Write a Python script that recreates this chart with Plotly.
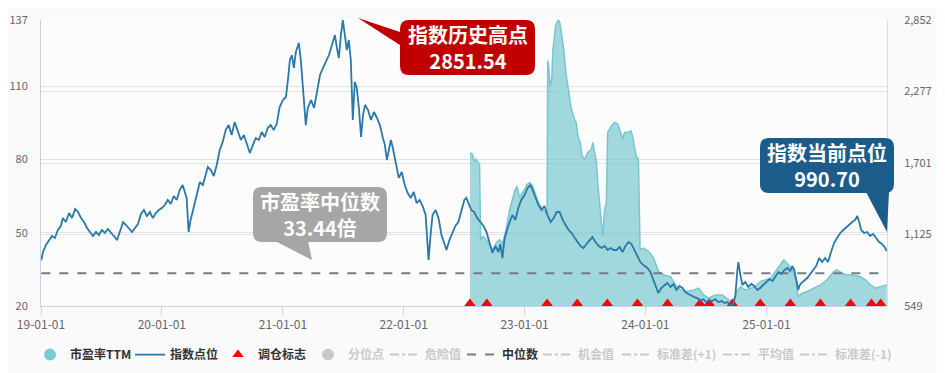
import plotly.graph_objects as go

# ---------------- data ----------------
idx_dates = [
"2019-01-02","2019-01-07","2019-01-16","2019-01-25","2019-02-03","2019-02-12","2019-02-21","2019-03-02","2019-03-08","2019-03-17",
"2019-03-27","2019-04-05","2019-04-14","2019-04-23","2019-05-02","2019-05-11","2019-05-20","2019-05-29","2019-06-07","2019-06-16",
"2019-06-25","2019-07-04","2019-07-13","2019-07-22","2019-07-31","2019-08-09","2019-08-19","2019-08-28","2019-09-06","2019-09-15",
"2019-09-24","2019-10-03","2019-10-12","2019-10-21","2019-10-30","2019-11-08","2019-11-17","2019-11-26","2019-12-05","2019-12-14",
"2019-12-23",
"2020-01-01","2020-01-10","2020-01-19","2020-01-28","2020-02-06","2020-02-15","2020-02-24","2020-03-04","2020-03-10","2020-03-16",
"2020-03-22","2020-03-28","2020-04-06","2020-04-15","2020-04-25","2020-05-04","2020-05-13","2020-05-19","2020-05-28","2020-06-06",
"2020-06-15","2020-06-24","2020-07-03","2020-07-12","2020-07-21","2020-07-30","2020-08-08","2020-08-18","2020-08-27","2020-09-05",
"2020-09-14","2020-09-23","2020-10-02","2020-10-11","2020-10-20","2020-10-29","2020-11-07","2020-11-16","2020-11-25","2020-12-04",
"2020-12-13","2020-12-22",
"2021-01-01","2021-01-10","2021-01-16","2021-01-22","2021-01-28","2021-02-03","2021-02-09","2021-02-18","2021-02-24","2021-03-02",
"2021-03-08","2021-03-11","2021-03-17","2021-03-27","2021-04-05","2021-04-14","2021-04-23","2021-05-02","2021-05-11","2021-05-20",
"2021-05-29","2021-06-07","2021-06-13","2021-06-19","2021-06-25","2021-07-01","2021-07-07","2021-07-13","2021-07-19","2021-07-25",
"2021-07-31","2021-08-06","2021-08-12","2021-08-19","2021-08-25","2021-08-31","2021-09-06","2021-09-15","2021-09-24","2021-10-03",
"2021-10-12","2021-10-21","2021-10-30","2021-11-05","2021-11-11","2021-11-17","2021-11-23","2021-11-29","2021-12-08","2021-12-17",
"2021-12-26",
"2022-01-04","2022-01-13","2022-01-22","2022-01-31","2022-02-09","2022-02-18","2022-02-27","2022-03-08","2022-03-14","2022-03-17",
"2022-03-23","2022-03-29","2022-04-07","2022-04-16","2022-04-25","2022-05-04","2022-05-10","2022-05-19","2022-05-28","2022-06-06",
"2022-06-15","2022-06-24","2022-07-03","2022-07-09","2022-07-15","2022-07-24","2022-08-02","2022-08-11","2022-08-21","2022-08-30",
"2022-09-08","2022-09-17","2022-09-26","2022-10-05","2022-10-14","2022-10-20","2022-10-26","2022-11-01","2022-11-07","2022-11-16",
"2022-11-25","2022-12-04","2022-12-13","2022-12-22",
"2023-01-01","2023-01-10","2023-01-19","2023-01-25","2023-02-03","2023-02-12","2023-02-21","2023-03-02","2023-03-11","2023-03-21",
"2023-03-30","2023-04-08","2023-04-17","2023-04-26","2023-05-05","2023-05-14","2023-05-23","2023-06-01","2023-06-10","2023-06-19",
"2023-06-28","2023-07-07","2023-07-16","2023-07-25","2023-08-03","2023-08-13","2023-08-22","2023-08-31","2023-09-09","2023-09-18",
"2023-09-27","2023-10-06","2023-10-15","2023-10-24","2023-11-02","2023-11-11","2023-11-20","2023-11-29","2023-12-08","2023-12-17",
"2023-12-26",
"2024-01-07","2024-01-16","2024-01-25","2024-02-03","2024-02-09","2024-02-18","2024-02-27","2024-03-07","2024-03-17","2024-03-26",
"2024-04-04","2024-04-13","2024-04-22","2024-05-01","2024-05-10","2024-05-19","2024-05-28","2024-06-06","2024-06-15","2024-06-24",
"2024-07-03","2024-07-12","2024-07-21","2024-07-30","2024-08-08","2024-08-18","2024-08-27","2024-09-05","2024-09-14","2024-09-23",
"2024-09-29","2024-10-05","2024-10-08","2024-10-14","2024-10-20","2024-10-29","2024-11-07","2024-11-16","2024-11-25","2024-12-04",
"2024-12-13","2024-12-22",
"2025-01-01","2025-01-10","2025-01-19","2025-01-28","2025-02-06","2025-02-15","2025-02-24","2025-03-05","2025-03-14","2025-03-20",
"2025-03-26","2025-04-07","2025-04-10","2025-04-16","2025-04-25","2025-05-04","2025-05-13","2025-05-22","2025-05-31","2025-06-09",
"2025-06-18","2025-06-27","2025-07-06","2025-07-15","2025-07-24","2025-08-02","2025-08-12","2025-08-21","2025-08-30","2025-09-08",
"2025-09-17","2025-09-26","2025-10-02","2025-10-08","2025-10-14","2025-10-23","2025-11-01","2025-11-10","2025-11-19","2025-11-28",
"2025-12-07","2025-12-16","2025-12-24","2025-12-30",
]
idx_values = [
919,984,1040,1080,1113,1097,1161,1193,1257,1225,
1298,1257,1330,1306,1257,1225,1177,1145,1113,1145,
1121,1161,1137,1169,1145,1113,1080,1161,1225,1201,
1177,1145,1177,1209,1290,1322,1274,1306,1257,1298,
1322,
1338,1362,1403,1370,1435,1403,1483,1523,1467,1419,
1145,1242,1338,1443,1547,1523,1604,1668,1644,1596,
1684,1805,1870,1966,2006,1926,2030,1950,1886,1926,
1861,1781,1845,1902,1886,1950,1910,1982,2006,1966,
2014,2151,
2208,2232,2369,2530,2570,2466,2594,2667,2530,2329,
2127,2006,2143,2208,2143,2272,2409,2466,2514,2570,
2651,2731,2627,2546,2731,2851.54,2731,2610,2691,2530,
2047,2353,2304,2127,1910,2087,2168,2127,2047,2111,
2063,2006,1902,1845,1725,1805,1886,1821,1708,1580,
1628,
1523,1459,1419,1467,1378,1403,1354,1282,1080,919,
1121,1282,1322,1257,1121,1040,1000,1080,1145,1193,
1225,1306,1403,1419,1378,1322,1306,1257,1225,1193,
1145,1064,976,1032,984,1048,935,1080,1145,1217,
1282,1242,1338,1403,
1443,1499,1523,1483,1419,1362,1322,1354,1282,1225,
1257,1306,1306,1242,1201,1161,1137,1097,1064,1032,
1016,1048,1080,1104,1064,1032,1016,1032,1000,1016,
1000,1000,1024,984,1032,1064,1048,1000,943,903,
879,
855,823,758,702,654,694,718,734,702,726,
678,710,694,662,646,630,621,613,589,605,
581,597,589,605,581,589,573,581,557,565,
637,839,903,799,718,742,702,726,710,678,
694,718,
742,766,750,791,823,807,839,855,831,871,
839,678,710,734,758,774,807,839,871,935,
903,935,903,984,1056,1097,1137,1161,1185,1209,
1225,1242,1274,1225,1161,1137,1145,1113,1129,1097,
1064,1048,1024,990.70,
]

pe_dates = [
"2022-07-20","2022-07-27","2022-08-03","2022-08-08","2022-08-13","2022-08-18","2022-08-21","2022-08-28","2022-09-07","2022-09-17",
"2022-09-27","2022-10-07","2022-10-17","2022-10-27","2022-11-06","2022-11-17","2022-11-25","2022-12-02","2022-12-09","2022-12-17",
"2022-12-25","2023-01-01","2023-01-08","2023-01-16","2023-01-26","2023-02-03","2023-02-10","2023-02-18","2023-02-25","2023-03-05",
"2023-03-10","2023-03-12","2023-03-15","2023-03-19","2023-03-24","2023-03-28","2023-04-01","2023-04-05","2023-04-12","2023-04-17",
"2023-04-22","2023-04-29","2023-05-07","2023-05-15","2023-05-22","2023-06-01","2023-06-06","2023-06-11","2023-06-18","2023-06-24",
"2023-07-01","2023-07-11","2023-07-22","2023-07-26","2023-07-31","2023-08-06","2023-08-10","2023-08-16","2023-08-21","2023-08-25",
"2023-08-31","2023-09-05","2023-09-09","2023-09-20","2023-09-30","2023-10-10","2023-10-20","2023-10-24","2023-10-30","2023-11-09",
"2023-11-19","2023-11-23","2023-12-04","2023-12-11","2023-12-16","2023-12-27","2024-01-11","2024-01-26","2024-02-10","2024-02-25",
"2024-03-17","2024-04-01","2024-04-16","2024-05-06","2024-05-26","2024-06-10","2024-06-25","2024-07-10","2024-07-30","2024-08-20",
"2024-09-09","2024-09-22","2024-10-04","2024-10-14","2024-10-29","2024-11-13","2024-11-28","2024-12-13","2024-12-28","2025-01-13",
"2025-01-28","2025-02-12","2025-02-22","2025-03-04","2025-03-19","2025-03-30","2025-04-06","2025-04-19","2025-05-04","2025-05-24",
"2025-06-13","2025-07-03","2025-07-23","2025-08-02","2025-08-17","2025-09-01","2025-09-21","2025-10-12","2025-10-27","2025-11-11",
"2025-11-26","2025-12-11","2025-12-30",
]
pe_values = [
82.8,82.1,79.3,80.0,78.9,78.0,47.1,48.5,47.1,45.1,
43.0,45.8,47.1,45.8,51.2,59.5,63.6,67.0,69.0,64.3,
66.3,67.7,69.7,70.4,69.0,65.6,62.9,60.8,59.5,58.1,
57.4,120.4,117.7,110.1,112.9,125.2,130.7,134.8,137.0,136.2,
132.1,125.2,114.2,107.4,100.6,96.4,95.1,89.6,86.9,81.4,
80.0,82.8,84.1,86.9,82.8,79.3,70.4,60.8,54.0,48.5,
59.5,62.2,91.0,93.7,95.1,94.4,90.3,88.2,91.0,91.0,
91.6,89.6,81.4,80.0,43.0,43.7,42.3,39.6,34.1,32.7,
32.0,28.6,26.6,25.9,26.6,27.3,24.5,23.2,24.5,24.5,
22.5,21.8,25.9,27.9,26.6,27.3,27.9,30.0,30.7,31.4,
34.1,36.9,38.9,37.5,35.1,30.7,23.8,25.2,25.9,27.3,
28.6,30.7,34.1,34.8,33.4,32.7,32.7,32.0,30.7,28.6,
27.3,27.9,28.6,
]

rebalance_dates = [
"2022-07-20","2022-09-09","2023-03-10","2023-06-09","2023-09-08","2023-12-08","2024-03-08","2024-06-14",
"2024-07-12","2024-09-20","2024-12-13","2025-03-14","2025-06-13","2025-09-12","2025-11-14","2025-12-12",
]

pe_median = 33.44
index_high = 2851.54
index_now = 990.70

left_ticks = [20, 50, 80, 110, 137]
right_ticks = [549, 1124.75, 1700.5, 2276.25, 2852]
right_ticktext = ["549", "1,125", "1,701", "2,277", "2,852"]

legend_names = ["市盈率TTM", "指数点位", "调仓标志", "分位点", "危险值",
                "中位数", "机会值", "标准差(+1)", "平均值", "标准差(-1)"]

# ---------------- style ----------------
FONT = "Noto Sans CJK SC, Noto Sans, sans-serif"
PE_FILL = "rgba(112,198,207,0.66)"
PE_LINE = "#79c6cf"
IDX_COLOR = "#2a79a8"
GRID = "#e3e3e3"
AXIS = "#c9d1ea"
OFF = "#c9c9c9"
MARK_Y = 21.0   # triangles sit on the bottom axis

# the page body has an 8px margin, so the figure is made smaller and
# all page-pixel positions below are shifted by it
BODY = 8
W, H = 945 - BODY, 373 - BODY
PL, PR, PT, PB = 41, 887, 20, 306  # plot area, page pixels
LEGEND_TEXT_X = [70, 170, 258, 348, 425, 502, 578, 657, 758, 835]  # legend text starts (page px)

def lg(i):
    return "legend" if i == 0 else f"legend{i + 1}"

def nm(i, on):
    t = legend_names[i]
    return f"<b>{t}</b>" if on else f'<span style="color:{OFF}"><b>{t}</b></span>'

fig = go.Figure()

# PE area
fig.add_trace(go.Scatter(x=pe_dates, y=pe_values, mode="lines", fill="tozeroy",
                         fillcolor=PE_FILL, line=dict(color=PE_LINE, width=1.5),
                         showlegend=False, yaxis="y", legendgroup="pe"))
# legend proxy for PE (circle)
fig.add_trace(go.Scatter(x=[None], y=[None], mode="markers", name=nm(0, True), legend=lg(0),
                         marker=dict(symbol="circle", size=12, color="#7ccbd3"), legendgroup="pe"))
# index line
fig.add_trace(go.Scatter(x=idx_dates, y=idx_values, mode="lines", name=nm(1, True), legend=lg(1),
                         line=dict(color=IDX_COLOR, width=1.8), yaxis="y2"))
# rebalance markers
fig.add_trace(go.Scatter(x=rebalance_dates, y=[MARK_Y] * len(rebalance_dates), mode="markers",
                         name=nm(2, True), legend=lg(2), cliponaxis=False,
                         marker=dict(symbol="triangle-up", size=10, color="#ff0000")))
# disabled legend items
fig.add_trace(go.Scatter(x=[None], y=[None], mode="markers", name=nm(3, False), legend=lg(3),
                         marker=dict(symbol="circle", size=12, color=OFF)))
fig.add_trace(go.Scatter(x=[None], y=[None], mode="lines", name=nm(4, False), legend=lg(4),
                         line=dict(color=OFF, width=2, dash="dashdot")))
# median line
fig.add_trace(go.Scatter(x=[idx_dates[0], idx_dates[-1]], y=[pe_median, pe_median], mode="lines",
                         name=nm(5, True), legend=lg(5),
                         line=dict(color="#737b84", width=2, dash="dash")))
for i in range(6, 10):
    fig.add_trace(go.Scatter(x=[None], y=[None], mode="lines", name=nm(i, False), legend=lg(i),
                             line=dict(color=OFF, width=2, dash="dashdot")))

# ---------------- callouts ----------------
def P(x, y):
    return f"{x - PL:.1f},{-(y - PT):.1f}"

def rrect(x0, y0, x1, y1, r):
    return (f"M{P(x0 + r, y0)} L{P(x1 - r, y0)} Q{P(x1, y0)} {P(x1, y0 + r)} "
            f"L{P(x1, y1 - r)} Q{P(x1, y1)} {P(x1 - r, y1)} L{P(x0 + r, y1)} "
            f"Q{P(x0, y1)} {P(x0, y1 - r)} L{P(x0, y0 + r)} Q{P(x0, y0)} {P(x0 + r, y0)} Z")

def tri(a, b, c):
    return f"M{P(*a)} L{P(*b)} L{P(*c)} Z"

callouts = [
    ("#c00000", (400, 20, 535, 75), ((358, 18), (403, 33), (403, 47)), f"<b>指数历史高点<br>{index_high:.2f}</b>"),
    ("#1b5c8a", (760, 138, 894, 193), ((866, 192), (889, 192), (887, 232)), f"<b>指数当前点位<br>{index_now:.2f}</b>"),
    ("#a6a6a6", (253, 187, 387, 242), ((275, 241), (308, 241), (312, 260)), f"<b>市盈率中位数<br>{pe_median:.2f}倍</b>"),
]
shapes = []
annotations = []
for col, box, tail, txt in callouts:
    for path in (rrect(*box, 9), tri(*tail)):
        shapes.append(dict(type="path", path=path, xref="paper", yref="paper",
                           xsizemode="pixel", ysizemode="pixel", xanchor=0, yanchor=1,
                           fillcolor=col, line=dict(width=0), layer="above"))
    cx = ((box[0] + box[2]) / 2 - PL) / (PR - PL)
    cy = (PB - (box[1] + box[3]) / 2) / (PB - PT)
    annotations.append(dict(x=cx, y=cy, xref="paper", yref="paper", text=txt, showarrow=False,
                            font=dict(size=20, color="white", family=FONT),
                            xanchor="center", yanchor="middle"))

legends = {}
for i in range(10):
    legends[lg(i)] = dict(orientation="h", x=(LEGEND_TEXT_X[i] - 40 - PL) / (PR - PL), xanchor="left",
                          y=-0.17, yanchor="middle", font=dict(size=12, color="#333", family=FONT),
                          itemwidth=30, bgcolor="rgba(0,0,0,0)", borderwidth=0, itemclick=False)

fig.update_layout(
    width=W, height=H,
    margin=dict(l=PL - BODY, r=W - (PR - BODY), t=PT - BODY, b=H - (PB - BODY), autoexpand=False),
    paper_bgcolor="#fafafa", plot_bgcolor="#fcfcfc",
    font=dict(family=FONT, size=12, color="#666"),
    showlegend=True,
    xaxis=dict(type="date", range=["2019-01-01", "2025-12-31"], tickformat="%y-%m-%d",
               dtick="M12", tick0="2019-01-01", showgrid=False, showline=True, linecolor=AXIS,
               ticks="outside", ticklen=8, tickcolor=AXIS, zeroline=False, automargin=False,
               tickfont=dict(size=12, color="#666")),
    yaxis=dict(range=[20, 137], tickvals=left_ticks, showgrid=True, gridcolor=GRID,
               showline=True, linecolor=AXIS, ticks="", ticklabelstandoff=10, zeroline=False,
               automargin=False, tickfont=dict(size=11, color="#666")),
    yaxis2=dict(overlaying="y", side="right", range=[549, 2852], tickvals=right_ticks,
                ticktext=right_ticktext, showgrid=True, gridcolor=GRID, showline=True,
                linecolor="#dcdcdc", ticks="", ticklabelstandoff=14, zeroline=False,
                automargin=False, tickfont=dict(size=11, color="#666")),
    shapes=shapes, annotations=annotations,
    **legends,
)

fig.write_html("out.html")
